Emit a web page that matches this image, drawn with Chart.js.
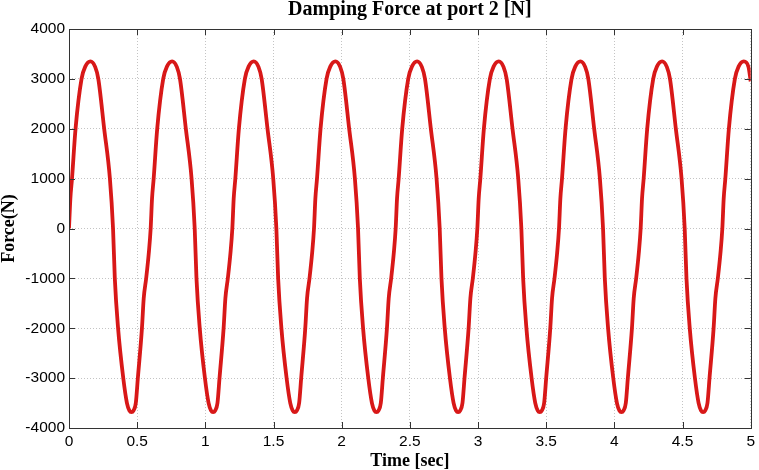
<!DOCTYPE html>
<html><head><meta charset="utf-8">
<script src="https://cdn.jsdelivr.net/npm/chart.js@4"></script>
<style>html,body{margin:0;padding:0;background:#fff;} #wrap{width:759px;height:470px;}</style>
</head><body><div id="wrap"><canvas id="c" width="759" height="470"></canvas></div>
<script>
const chartTitle = 'Damping Force at port 2 [N]';
const xTitle = 'Time [sec]';
const yTitle = 'Force(N)';
const xTickValues = [0, 0.5, 1, 1.5, 2, 2.5, 3, 3.5, 4, 4.5, 5];
const xTickLabels = ['0', '0.5', '1', '1.5', '2', '2.5', '3', '3.5', '4', '4.5', '5'];
const yTickValues = [-4000, -3000, -2000, -1000, 0, 1000, 2000, 3000, 4000];
const yTickLabels = ['-4000', '-3000', '-2000', '-1000', '0', '1000', '2000', '3000', '4000'];

const time = [
  0.000, 0.010, 0.022, 0.048, 0.092, 0.120, 0.157, 0.192, 0.215, 0.258, 0.300, 0.323, 0.336, 0.360, 0.398, 0.425, 0.443, 0.458, 0.473, 0.490, 0.505, 0.535, 0.548, 0.566, 0.585,
  0.599, 0.609, 0.621, 0.647, 0.691, 0.719, 0.756, 0.791, 0.814, 0.857, 0.899, 0.922, 0.935, 0.959, 0.997, 1.024, 1.042, 1.057, 1.072, 1.089, 1.104, 1.134, 1.147, 1.165, 1.184,
  1.198, 1.208, 1.220, 1.246, 1.290, 1.318, 1.355, 1.390, 1.413, 1.456, 1.498, 1.521, 1.534, 1.558, 1.596, 1.623, 1.641, 1.656, 1.671, 1.688, 1.703, 1.733, 1.746, 1.764, 1.783,
  1.797, 1.807, 1.819, 1.845, 1.889, 1.917, 1.954, 1.989, 2.012, 2.055, 2.097, 2.120, 2.133, 2.157, 2.195, 2.222, 2.240, 2.255, 2.270, 2.287, 2.302, 2.332, 2.345, 2.363, 2.382,
  2.396, 2.406, 2.418, 2.444, 2.488, 2.516, 2.553, 2.588, 2.611, 2.654, 2.696, 2.719, 2.732, 2.756, 2.794, 2.821, 2.839, 2.854, 2.869, 2.886, 2.901, 2.931, 2.944, 2.962, 2.981,
  2.995, 3.005, 3.017, 3.043, 3.087, 3.115, 3.152, 3.187, 3.210, 3.253, 3.295, 3.318, 3.331, 3.355, 3.393, 3.420, 3.438, 3.453, 3.468, 3.485, 3.500, 3.530, 3.543, 3.561, 3.580,
  3.594, 3.604, 3.616, 3.642, 3.686, 3.714, 3.751, 3.786, 3.809, 3.852, 3.894, 3.917, 3.930, 3.954, 3.992, 4.019, 4.037, 4.052, 4.067, 4.084, 4.099, 4.129, 4.142, 4.160, 4.179,
  4.193, 4.203, 4.215, 4.241, 4.285, 4.313, 4.350, 4.385, 4.408, 4.451, 4.493, 4.516, 4.529, 4.553, 4.591, 4.618, 4.636, 4.651, 4.666, 4.683, 4.698, 4.728, 4.741, 4.759, 4.778,
  4.792, 4.802, 4.814, 4.840, 4.884, 4.912, 4.949, 4.984, 5.000
];
const force = [
  0, 600, 1000, 2000, 3000, 3250, 3350, 3240, 3000, 2000, 1000, 0, -1000, -2000, -3000, -3500, -3650, -3680, -3650, -3500, -3000, -2000, -1400, -1000, -500,
  0, 600, 1000, 2000, 3000, 3250, 3350, 3240, 3000, 2000, 1000, 0, -1000, -2000, -3000, -3500, -3650, -3680, -3650, -3500, -3000, -2000, -1400, -1000, -500,
  0, 600, 1000, 2000, 3000, 3250, 3350, 3240, 3000, 2000, 1000, 0, -1000, -2000, -3000, -3500, -3650, -3680, -3650, -3500, -3000, -2000, -1400, -1000, -500,
  0, 600, 1000, 2000, 3000, 3250, 3350, 3240, 3000, 2000, 1000, 0, -1000, -2000, -3000, -3500, -3650, -3680, -3650, -3500, -3000, -2000, -1400, -1000, -500,
  0, 600, 1000, 2000, 3000, 3250, 3350, 3240, 3000, 2000, 1000, 0, -1000, -2000, -3000, -3500, -3650, -3680, -3650, -3500, -3000, -2000, -1400, -1000, -500,
  0, 600, 1000, 2000, 3000, 3250, 3350, 3240, 3000, 2000, 1000, 0, -1000, -2000, -3000, -3500, -3650, -3680, -3650, -3500, -3000, -2000, -1400, -1000, -500,
  0, 600, 1000, 2000, 3000, 3250, 3350, 3240, 3000, 2000, 1000, 0, -1000, -2000, -3000, -3500, -3650, -3680, -3650, -3500, -3000, -2000, -1400, -1000, -500,
  0, 600, 1000, 2000, 3000, 3250, 3350, 3240, 3000, 2000, 1000, 0, -1000, -2000, -3000, -3500, -3650, -3680, -3650, -3500, -3000, -2000, -1400, -1000, -500,
  0, 600, 1000, 2000, 3000, 3250, 3350, 3240, 2950
];

const serif = '"Liberation Serif", "Times New Roman", serif';
const sans = '"Liberation Sans", Arial, sans-serif';

const framePlugin = {
  id: 'frame',
  afterDatasetsDraw(chart) {
    const {ctx, chartArea: {left, right, top, bottom}, scales: {x, y}} = chart;
    ctx.save();
    ctx.strokeStyle = '#333';
    ctx.lineWidth = 1;
    ctx.beginPath();
    const tl = 6;
    x.ticks.forEach(t => {
      const px = Math.round(x.getPixelForValue(t.value)) + 0.5;
      ctx.moveTo(px, bottom); ctx.lineTo(px, bottom - tl);
      ctx.moveTo(px, top); ctx.lineTo(px, top + tl);
    });
    y.ticks.forEach(t => {
      const py = Math.round(y.getPixelForValue(t.value)) + 0.5;
      ctx.moveTo(left, py); ctx.lineTo(left + tl, py);
      ctx.moveTo(right, py); ctx.lineTo(right - tl, py);
    });
    ctx.stroke();
    ctx.strokeRect(Math.round(left) + 0.5, Math.round(top) + 0.5, Math.round(right - left), Math.round(bottom - top));
    ctx.restore();
  }
};

new Chart(document.getElementById('c'), {
  type: 'line',
  data: {
    datasets: [{
      data: time.map((t, i) => ({x: t, y: force[i]})),
      borderColor: '#d81818',
      borderWidth: 3.8,
      pointRadius: 0,
      fill: false,
      cubicInterpolationMode: 'monotone'
    }]
  },
  options: {
    responsive: false,
    animation: false,
    devicePixelRatio: 1,
    layout: {padding: {left: 0, right: 8, top: 0, bottom: 0}},
    plugins: {
      legend: {display: false},
      tooltip: {enabled: false},
      title: {
        display: true, text: chartTitle, fullSize: false, color: '#000',
        font: {family: serif, size: 20, weight: 'bold', lineHeight: 1},
        padding: {top: 0.3, bottom: 8.7}
      }
    },
    scales: {
      x: {
        type: 'linear', min: 0, max: 5,
        afterBuildTicks: s => { s.ticks = xTickValues.map(v => ({value: v})); },
        afterFit: s => { s.height = 42; },
        ticks: {
          callback: (v, i) => xTickLabels[i],
          color: '#000', font: {family: sans, size: 15.5}, padding: 4,
          maxRotation: 0, autoSkip: false
        },
        grid: {color: '#c4c4c4', lineWidth: 1, drawTicks: false},
        border: {display: false, dash: [1, 2]},
        title: {display: true, text: xTitle, color: '#000',
          font: {family: serif, size: 18, weight: 'bold', lineHeight: 1}, padding: {top: 0, bottom: 0}}
      },
      y: {
        type: 'linear', min: -4000, max: 4000,
        afterBuildTicks: s => { s.ticks = yTickValues.map(v => ({value: v})); },
        afterFit: s => { s.width = 69; },
        ticks: {
          callback: (v, i) => yTickLabels[i],
          color: '#000', font: {family: sans, size: 15.5}, padding: 4, autoSkip: false
        },
        grid: {color: '#c4c4c4', lineWidth: 1, drawTicks: false},
        border: {display: false, dash: [1, 2]},
        title: {display: true, text: yTitle, color: '#000',
          font: {family: serif, size: 18, weight: 'bold', lineHeight: 1}, padding: {top: 0, bottom: 0}}
      }
    }
  },
  plugins: [framePlugin]
});
</script>
</body></html>
